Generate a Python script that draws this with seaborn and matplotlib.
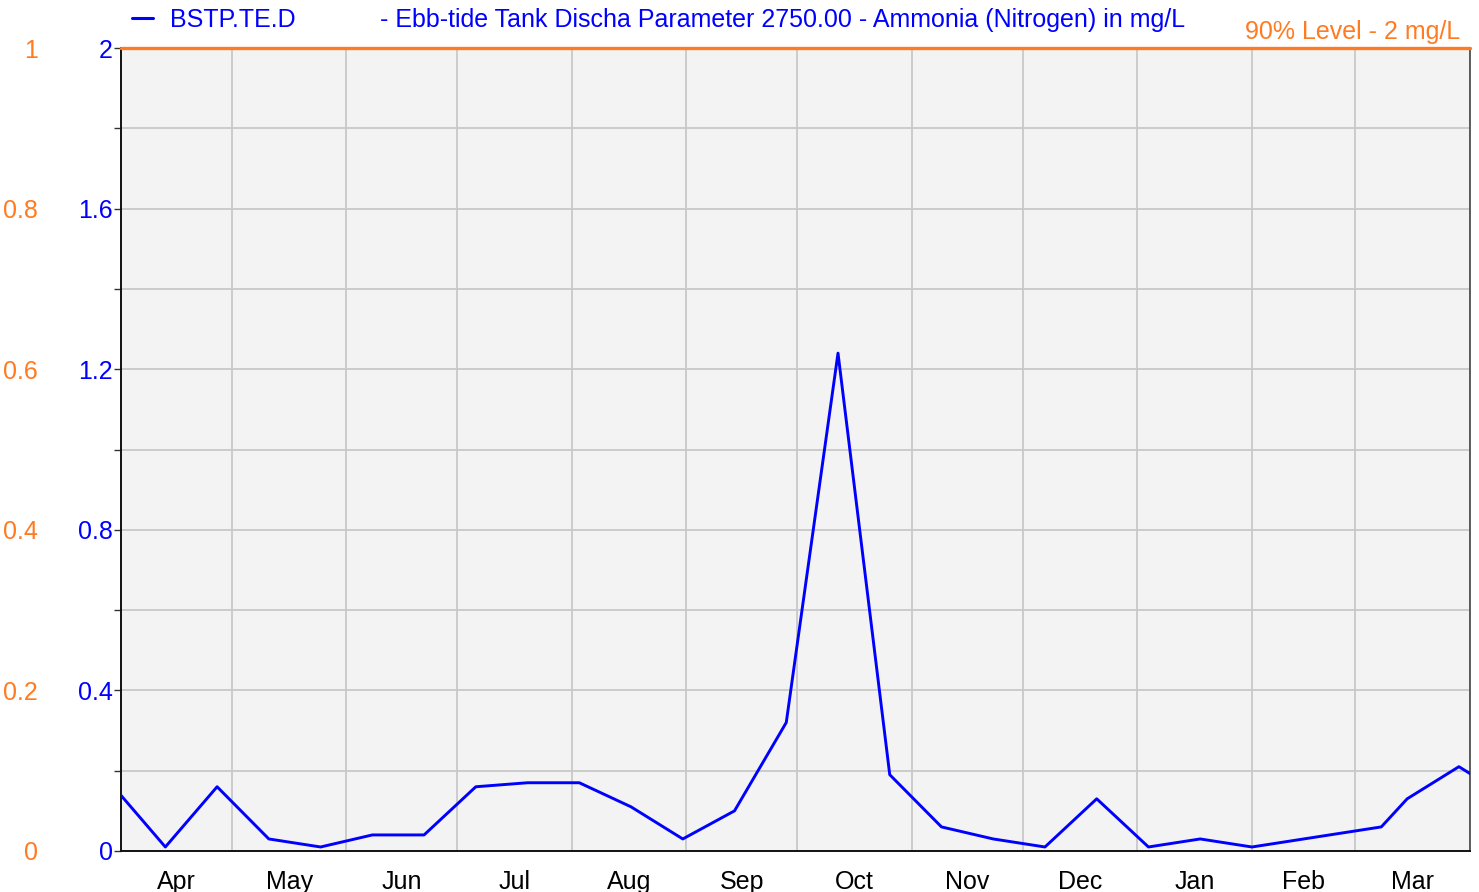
import pandas as pd
import seaborn as sns
import matplotlib.pyplot as plt
from matplotlib.ticker import FixedLocator, FixedFormatter
from matplotlib.lines import Line2D

# data
sample_dates = ['2022-03-30', '2022-04-13', '2022-04-27', '2022-05-11', '2022-05-25',
                '2022-06-08', '2022-06-22', '2022-07-06', '2022-07-20', '2022-08-03',
                '2022-08-17', '2022-08-31', '2022-09-14', '2022-09-28', '2022-10-12',
                '2022-10-26', '2022-11-09', '2022-11-23', '2022-12-07', '2022-12-21',
                '2023-01-04', '2023-01-18', '2023-02-01', '2023-03-08', '2023-03-15',
                '2023-03-29', '2023-04-12']
ammonia = [0.16, 0.01, 0.16, 0.03, 0.01,
           0.04, 0.04, 0.16, 0.17, 0.17,
           0.11, 0.03, 0.10, 0.32, 1.24,
           0.19, 0.06, 0.03, 0.01, 0.13,
           0.01, 0.03, 0.01, 0.06, 0.13,
           0.21, 0.13]
month_names = ['Apr', 'May', 'Jun', 'Jul', 'Aug', 'Sep', 'Oct', 'Nov', 'Dec', 'Jan', 'Feb', 'Mar']
left_ticks = [0, 0.2, 0.4, 0.6, 0.8, 1.0, 1.2, 1.4, 1.6, 1.8, 2.0]
left_labels = ['0', '', '0.4', '', '0.8', '', '1.2', '', '1.6', '', '2']
pct_ticks = [0, 0.2, 0.4, 0.6, 0.8, 1.0]
pct_labels = ['0', '0.2', '0.4', '0.6', '0.8', '1']
level_90 = 2.0
series_name = 'BSTP.TE.D'
title = '- Ebb-tide Tank Discha Parameter 2750.00 - Ammonia (Nitrogen) in mg/L'

BLUE = '#0000ff'
ORANGE = '#ff7b22'
FS = 18
W, H = 1479, 892

sns.set_style('white')
plt.rcParams['font.family'] = ['Liberation Sans', 'DejaVu Sans']

df = pd.DataFrame({'date': pd.to_datetime(sample_dates), 'value': ammonia})
month_starts = pd.date_range('2022-04-01', '2023-04-01', freq='MS')
month_mids = month_starts[:-1] + (month_starts[1:] - month_starts[:-1]) / 2

fig = plt.figure(figsize=(W / 100, H / 100), dpi=100)
ax = fig.add_axes([121 / W, 1 - 851 / H, (1470 - 121) / W, (851 - 48) / H])
ax.set_facecolor('#f3f3f3')

sns.lineplot(data=df, x='date', y='value', color=BLUE, linewidth=2.1, ax=ax, zorder=4)
ax.axhline(level_90, color=ORANGE, lw=2.4, zorder=6, clip_on=False)

ax.set_xlim(month_starts[0], month_starts[-1])
ax.set_ylim(0, 2)
ax.set_xlabel('')
ax.set_ylabel('')

# x axis: ticks at month boundaries, labels centred on each month
ax.xaxis.set_major_locator(FixedLocator(plt.matplotlib.dates.date2num(month_starts)))
ax.xaxis.set_major_formatter(FixedFormatter([''] * len(month_starts)))
ax.xaxis.set_minor_locator(FixedLocator(plt.matplotlib.dates.date2num(month_mids)))
ax.xaxis.set_minor_formatter(FixedFormatter(month_names))
ax.tick_params(axis='x', which='major', direction='out', length=32, width=1.2, color='#333333')
ax.tick_params(axis='x', which='minor', length=0, pad=14, labelsize=FS, labelcolor='black')

# left (blue) axis
ax.yaxis.set_major_locator(FixedLocator(left_ticks))
ax.yaxis.set_major_formatter(FixedFormatter(left_labels))
ax.tick_params(axis='y', direction='out', length=5, width=1, color='#333333',
               labelcolor=BLUE, labelsize=FS, pad=1, left=True)

ax.grid(True, which='major', color='#c8c8c8', lw=1.3)
ax.set_axisbelow(True)
for side in ['left', 'bottom']:
    ax.spines[side].set_color('#111111')
    ax.spines[side].set_linewidth(1.4)
ax.spines['right'].set_color('#444444')
ax.spines['right'].set_linewidth(1.2)
ax.spines['top'].set_visible(False)

# outer orange percentage axis
ax2 = ax.twinx()
ax2.yaxis.tick_left()
ax2.set_ylim(0, 1)
ax2.yaxis.set_major_locator(FixedLocator(pct_ticks))
ax2.yaxis.set_major_formatter(FixedFormatter(pct_labels))
ax2.tick_params(axis='y', length=0, pad=60, labelcolor=ORANGE, labelsize=FS)
ax2.grid(False)
for s in ax2.spines.values():
    s.set_visible(False)

# legend / title row
fig.legend(handles=[Line2D([], [], color=BLUE, lw=2.2)], labels=[series_name],
           loc='center left', bbox_to_anchor=(132 / W, 1 - 20 / H), frameon=False,
           handlelength=0.85, handletextpad=0.65, borderpad=0, borderaxespad=0,
           labelcolor=BLUE, fontsize=FS)
fig.text(380 / W, 1 - 20 / H, title, color=BLUE, fontsize=FS, ha='left', va='center')
fig.text(1460 / W, 1 - 32 / H, f'90% Level - {level_90:g} mg/L', color=ORANGE,
         fontsize=FS, ha='right', va='center')

fig.savefig('out.png', dpi=100)
plt.close(fig)
